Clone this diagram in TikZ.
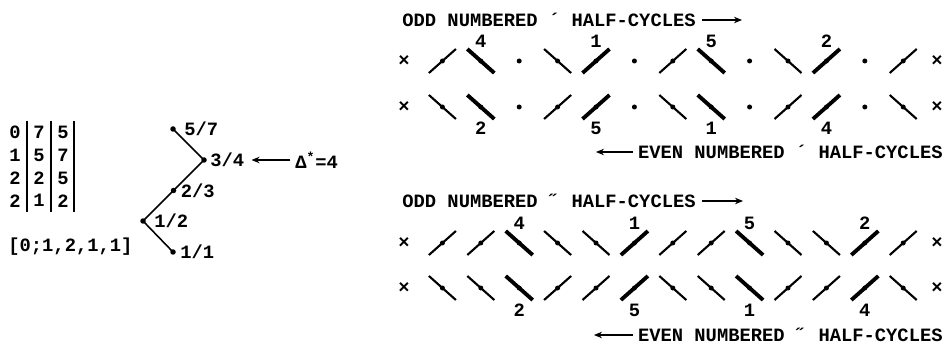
\documentclass[tikz,border=0pt]{standalone}
\usepackage{fontspec}
\setmainfont{Liberation Mono}
\usepackage{tikz}
\usetikzlibrary{arrows.meta,positioning}
\newcommand\hcfont{\fontsize{10.7}{12}\selectfont\bfseries}
% stroke marks: x, y, line width
\newcommand\hcfwd[3]{\draw[line width=#3pt] ({#1-13.5},{#2+12}) -- ({#1+13.5},{#2-12}); \fill ({#1},{#2}) circle[radius=0.05cm];}
\newcommand\hcbwd[3]{\draw[line width=#3pt] ({#1-13.5},{#2-12}) -- ({#1+13.5},{#2+12}); \fill ({#1},{#2}) circle[radius=0.05cm];}
\newcommand\hcpt[3]{\fill ({#1},{#2}) circle[radius=0.05cm];}
\tikzset{
  txt/.style={inner sep=0pt,font=\hcfont},
  ar/.style={-{Stealth[length=1.6mm,width=1.3mm]},line width=0.6pt},
  edge/.style={line width=0.9pt},
}

\begin{document}
\begin{tikzpicture}[x=0.02cm,y=-0.02cm]
\path[use as bounding box,fill=white] (0,0) rectangle (945,347);
% table
\foreach \a/\b/\c [count=\r] in {0/7/5,1/5/7,2/2/5,2/1/2} {
  \node[txt] (ta\r) at (15,{110+22.7*\r}) {\a};
  \node[txt] (tb\r) at (39,{110+22.7*\r}) {\b};
  \node[txt] (tc\r) at (63,{110+22.7*\r}) {\c};
}
\foreach \x in {27,51,74} \draw[line width=1.1pt] (\x,121) -- (\x,212);
\node[txt,anchor=west] (cf) at (8,247) {[0;1,2,1,1]};
% tree
\coordinate (p57) at (173,129);
\coordinate (p34) at (204,160);
\coordinate (p23) at (173.5,190.5);
\coordinate (p12) at (143,221);
\coordinate (p11) at (173,252);
\draw[edge] (p57) -- (p34) -- (p12) -- (p11);
\foreach \p in {p57,p34,p23,p12,p11} \fill (\p) circle[radius=0.055cm];
\node[txt,right=0.22cm of p57] (l57) {5/7};
\node[txt,right=0.12cm of p34] (l34) {3/4};
\node[txt,right=0.14cm of p23] (l23) {2/3};
\node[txt,right=0.22cm of p12] (l12) {1/2};
\node[txt,right=0.14cm of p11] (l11) {1/1};
\node[txt,anchor=west] (dst) at (295,160) {Δ\textsuperscript{*}=4};
\draw[ar,shorten <=0.1cm,shorten >=0.14cm] (l34.east -| dst.west) -- (l34.east);
% single-prime half-cycles
\node[txt,anchor=west] (odd1) at (402,20) {ODD NUMBERED ´ HALF-CYCLES};
\coordinate (oa1) at (742,20);
\draw[ar,shorten <=0.12cm] (odd1.east) -- (oa1);
\node[txt,anchor=east] (even1) at (943,152) {EVEN NUMBERED ´ HALF-CYCLES};
\coordinate (ea1) at (596,152);
\draw[ar,shorten <=0.1cm] (even1.west) -- (ea1);
\foreach \m/\w [count=\k] in {hcfwd/1.2,hcbwd/2.2,hcpt/0,hcbwd/1.2,hcfwd/2.2,hcpt/0,hcfwd/1.2,hcbwd/2.2,hcpt/0,hcbwd/1.2,hcfwd/2.2,hcpt/0,hcfwd/1.2}
  {\csname\m\endcsname{404+38.4*\k}{61}{\w}}
\foreach \m/\w [count=\k] in {hcbwd/1.2,hcbwd/2.2,hcpt/0,hcfwd/1.2,hcfwd/2.2,hcpt/0,hcbwd/1.2,hcbwd/2.2,hcpt/0,hcfwd/1.2,hcfwd/2.2,hcpt/0,hcbwd/1.2}
  {\csname\m\endcsname{404+38.4*\k}{107}{\w}}
\foreach \t/\k in {4/2,1/5,5/8,2/11} \node[txt] (a\t) at ({404+38.4*\k},41) {\t};
\foreach \t/\k in {2/2,5/5,1/8,4/11} \node[txt] (b\t) at ({404+38.4*\k},128) {\t};
% double-prime half-cycles
\node[txt,anchor=west] (odd2) at (402,201) {ODD NUMBERED ˝ HALF-CYCLES};
\coordinate (oa2) at (743,201);
\draw[ar,shorten <=0.12cm] (odd2.east) -- (oa2);
\node[txt,anchor=east] (even2) at (943,335) {EVEN NUMBERED ˝ HALF-CYCLES};
\coordinate (ea2) at (594,335);
\draw[ar,shorten <=0.1cm] (even2.west) -- (ea2);
\foreach \m/\w [count=\k] in {hcfwd/1.2,hcfwd/1.2,hcbwd/2.2,hcbwd/1.2,hcbwd/1.2,hcfwd/2.2,hcfwd/1.2,hcfwd/1.2,hcbwd/2.2,hcbwd/1.2,hcbwd/1.2,hcfwd/2.2,hcfwd/1.2}
  {\csname\m\endcsname{404+38.4*\k}{243}{\w}}
\foreach \m/\w [count=\k] in {hcbwd/1.2,hcbwd/1.2,hcbwd/2.2,hcfwd/1.2,hcfwd/1.2,hcfwd/2.2,hcbwd/1.2,hcbwd/1.2,hcbwd/2.2,hcfwd/1.2,hcfwd/1.2,hcfwd/2.2,hcbwd/1.2}
  {\csname\m\endcsname{404+38.4*\k}{288}{\w}}
\foreach \t/\k in {4/3,1/6,5/9,2/12} \node[txt] (c\t) at ({404+38.4*\k},223) {\t};
\foreach \t/\k in {2/3,5/6,1/9,4/12} \node[txt] (d\t) at ({404+38.4*\k},310) {\t};
% end marks
\foreach \y [count=\r] in {61,107,243,288} {
  \node[txt] (xl\r) at (404,\y) {×};
  \node[txt] (xr\r) at (937,\y) {×};
}
\end{tikzpicture}
\end{document}
